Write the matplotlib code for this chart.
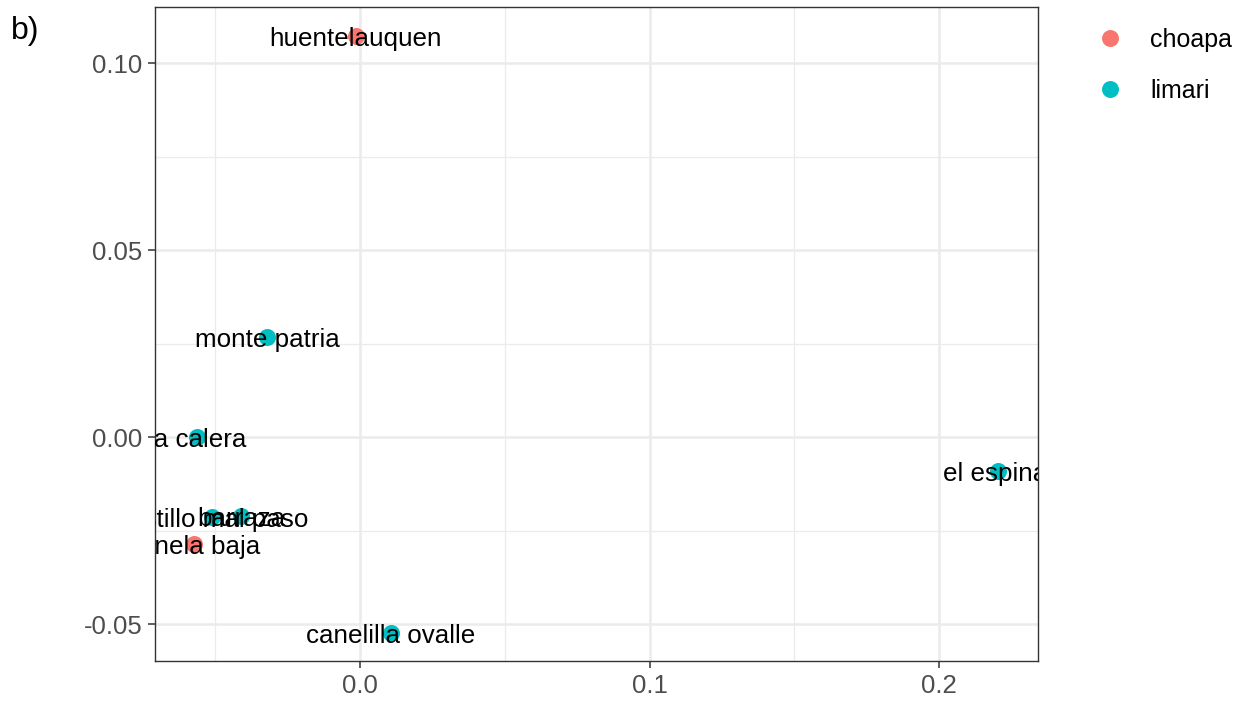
import numpy as np
import matplotlib.pyplot as plt
import matplotlib.transforms as mtransforms
from matplotlib.ticker import MultipleLocator
from matplotlib.lines import Line2D

plt.rcParams['font.family'] = ['Liberation Sans', 'DejaVu Sans']

# site scores (axis 1, axis 2) with their basin
sites = ['huentelauquen', 'monte patria', 'la calera', 'el espinal',
         'castillo mal paso', 'barraza', 'canela baja', 'canelilla ovalle']
dim1 = [-0.0014, -0.0320, -0.0563, 0.2204, -0.0511, -0.0411, -0.0573, 0.0107]
dim2 = [0.1072, 0.0267, 0.0000, -0.0091, -0.0214, -0.0211, -0.0286, -0.0524]
basin = ['choapa', 'limari', 'limari', 'limari', 'limari', 'limari',
         'choapa', 'limari']

basins = ['choapa', 'limari']
colours = {'choapa': '#F8766D', 'limari': '#00BFC4'}

fig = plt.figure(figsize=(12.45, 7.07), dpi=100)
ax = fig.add_axes([0.1245, 0.065, 0.709, 0.925])

x = np.array(dim1)
y = np.array(dim2)
b = np.array(basin)
for name in basins:
    m = b == name
    ax.scatter(x[m], y[m], s=150, color=colours[name], linewidths=0,
               zorder=3, label=name)

# labels sit centred on their point, nudged a touch down
shift = mtransforms.ScaledTranslation(0, -3 / 100, fig.dpi_scale_trans)
for lab, xi, yi in zip(sites, dim1, dim2):
    ax.text(xi, yi, lab, ha='center', va='center', fontsize=18.7,
            color='black', zorder=4, clip_on=True,
            transform=ax.transData + shift)

ax.set_xlim(-0.0708, 0.234)
ax.set_ylim(-0.0599, 0.115)

ax.xaxis.set_major_locator(MultipleLocator(0.1))
ax.xaxis.set_minor_locator(MultipleLocator(0.05))
ax.yaxis.set_major_locator(MultipleLocator(0.05))
ax.yaxis.set_minor_locator(MultipleLocator(0.025))
ax.xaxis.set_major_formatter(plt.FuncFormatter(lambda v, p: f'{v:.1f}'))
ax.yaxis.set_major_formatter(plt.FuncFormatter(lambda v, p: f'{v:.2f}'))

ax.grid(which='major', color='#EBEBEB', linewidth=1.8, zorder=0)
ax.grid(which='minor', color='#EBEBEB', linewidth=0.9, zorder=0)
ax.set_axisbelow(True)
ax.tick_params(which='major', length=5, width=1.1, color='#333333',
               labelsize=18.5, labelcolor='#4D4D4D', pad=4)
ax.tick_params(which='minor', length=0)
for sp in ax.spines.values():
    sp.set_color('#333333')
    sp.set_linewidth(1.0)

handles = [Line2D([], [], marker='o', linestyle='', markersize=12.2,
                  markerfacecolor=colours[n], markeredgewidth=0)
           for n in basins]
fig.legend(handles, basins, loc='upper left', bbox_to_anchor=(0.8735, 0.975),
           frameon=False, fontsize=18, handlelength=1.0, handletextpad=1.1,
           labelspacing=1.1, borderaxespad=0)

fig.text(0.009, 0.956, 'b)', fontsize=23, ha='left', va='center')

fig.savefig('out.png', dpi=100)
